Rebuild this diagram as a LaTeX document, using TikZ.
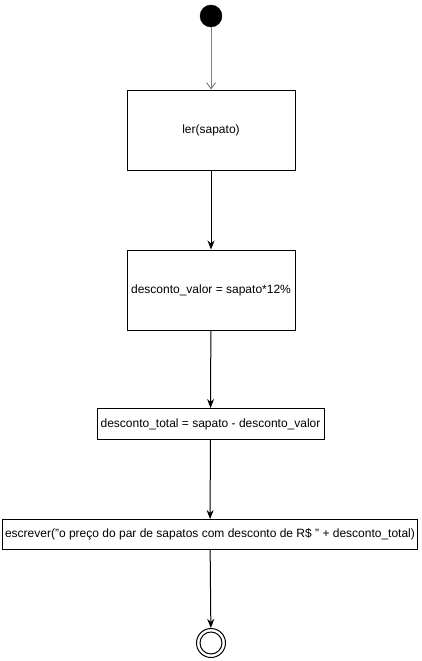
\documentclass[tikz,border=0pt]{standalone}
\usepackage{fontspec}
\setmainfont{Liberation Sans}
\usetikzlibrary{arrows.meta}

\tikzset{
  acao/.style={draw=black, line width=1pt, fill=white, inner sep=0pt, font=\fontsize{12}{14}\selectfont},
  seta/.style={draw=black, line width=1pt, -{Stealth[length=9pt,width=7pt]}},
}

\begin{document}
\begin{tikzpicture}[x=1pt,y=1pt,yscale=-1,xscale=1]
\useasboundingbox (0,0) rectangle (421,661);

%Shape: Initial node
\node (inicio) [circle, fill=black, draw=black, minimum size=22pt, inner sep=0pt] at (211,16) {};

%Shape: Rectangle ler
\node (ler) [acao, minimum width=168pt, minimum height=80pt] at (211,130) {ler(sapato)};
%Shape: Rectangle desconto_valor
\node (valor) [acao, minimum width=168pt, minimum height=80pt] at (211,290) {desconto\_valor = sapato*12\%};
%Shape: Rectangle desconto_total
\node (total) [acao, minimum width=227pt, minimum height=31pt] at (210.5,424) {desconto\_total = sapato - desconto\_valor};
%Shape: Rectangle escrever
\node (escrever) [acao, minimum width=415pt, minimum height=30pt] at (210,534.5) {escrever("o preço do par de sapatos com desconto de R\$ " + desconto\_total)};

%Shape: Final node
\node (fim) [circle, draw=black, line width=1pt, minimum size=29pt, inner sep=0pt] at (211,643) {};
\node (fimdentro) [circle, draw=black, line width=1pt, minimum size=22pt, inner sep=0pt] at (fim) {};

%Straight Lines
\draw [color={rgb, 255:red, 128; green, 128; blue, 128}, line width=1pt, -{Straight Barb[length=6pt,width=9pt]}] (inicio) -- (ler);
\draw [seta] (ler) -- (valor);
\draw [seta] (valor) -- (total);
\draw [seta] (total) -- (escrever);
\draw [seta] (escrever) -- (fim);

\end{tikzpicture}
\end{document}
